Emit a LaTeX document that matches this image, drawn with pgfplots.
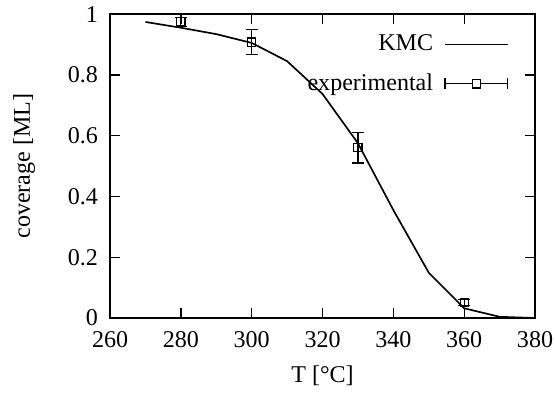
\documentclass[border=0pt]{standalone}
\usepackage{pgfplots}
\pgfplotsset{compat=1.18}
\usetikzlibrary{calc}
\usepackage{fontspec}
\setmainfont{Liberation Serif}
\begin{document}
\fontsize{13pt}{15pt}\selectfont
\begin{tikzpicture}
\begin{axis}[
  name=ax,
  scale only axis,
  width=229.7pt, height=164.3pt,
  xmin=260, xmax=380, ymin=0, ymax=1,
  xtick={260,280,...,380},
  ytick={0,0.2,...,1},
  tick align=inside,
  major tick length=5.4pt,
  axis line style={line width=0.75pt},
  every tick/.style={line width=0.7pt, black},
  /pgf/number format/assume math mode=true,
  tick label style={font=\fontsize{13pt}{15pt}\selectfont},
  xticklabel style={yshift=-2.5pt},
  yticklabel style={xshift=-2pt},
  xlabel={T [°C]},
  ylabel={coverage [ML]},
  label style={font=\fontsize{13pt}{15pt}\selectfont},
  xlabel style={at={(axis description cs:0.5,0)}, anchor=center, yshift=-31pt},
  ylabel style={at={(axis description cs:0,0.5)}, anchor=center, rotate=0, yshift=46.5pt},
  legend plot pos=right,
  legend cell align=right,
  legend style={draw=none, fill=none, at={(axis description cs:1,1)}, anchor=north east,
    xshift=-11pt, yshift=-7pt, row sep=6.5pt,
    font=\fontsize{13pt}{15pt}\selectfont,
    nodes={inner sep=2pt},
    /tikz/every odd column/.append style={column sep=4pt}},
]
\addplot[black, line width=0.9pt, mark=none,
  legend image code/.code={\draw[black, line width=0.9pt] (0pt,0pt) -- (34pt,0pt);}]
  coordinates {
  (270,0.974) (280,0.955) (290,0.934) (300,0.905) (310,0.845) (320,0.737)
  (330,0.575) (340,0.355) (350,0.149) (360,0.032) (370,0.004) (380,0.0)
  };
\addlegendentry{KMC}
\addplot[black, line width=0.6pt, only marks, mark=square, mark size=2.2pt,
  mark options={solid, fill=none},
  error bars/.cd, y dir=both, y explicit,
  error mark options={rotate=90, mark size=3.2pt, line width=0.6pt, black},
  error bar style={line width=0.6pt, black},
  /pgfplots/legend image code/.code={
    \draw[black, line width=0.6pt] (0pt,0pt) -- (34pt,0pt);
    \draw[black, line width=0.6pt] (0pt,-3pt) -- (0pt,3pt);
    \draw[black, line width=0.6pt] (34pt,-3pt) -- (34pt,3pt);
    \draw[black, line width=0.6pt, fill=white] (14.8pt,-2.2pt) rectangle (19.2pt,2.2pt);
  }]
  coordinates {
  (280,0.975) +- (0,0.015)
  (300,0.908) +- (0,0.04)
  (330,0.56) +- (0,0.05)
  (360,0.05) +- (0,0.01)
  };
\addlegendentry{experimental}
\end{axis}
\pgfresetboundingbox
\path (ax.south west) ++(-59.5pt,-40pt) rectangle ($(ax.north east)+(10.8pt,7.6pt)$);
\end{tikzpicture}
\end{document}
